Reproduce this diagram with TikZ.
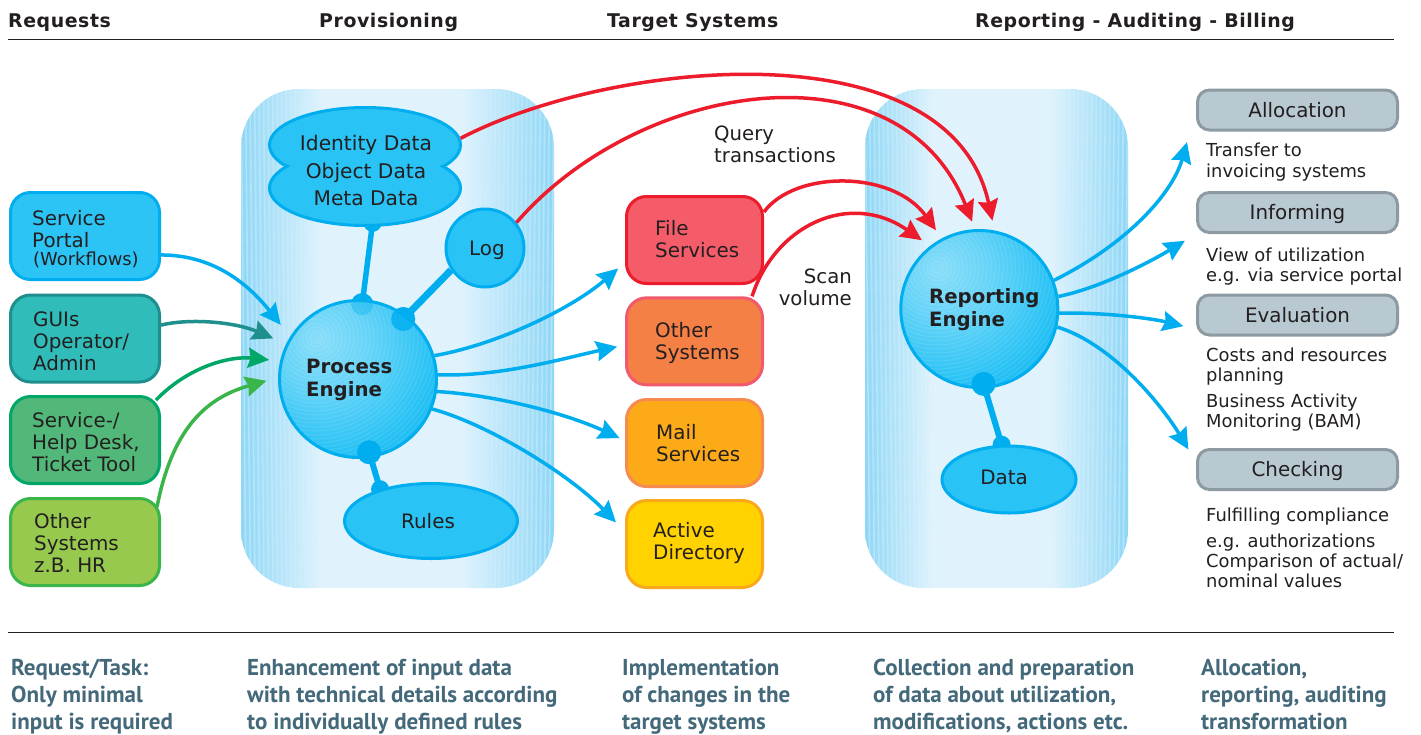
\documentclass[tikz,border=0pt]{standalone}
\usepackage{fontspec}
\setmainfont{DejaVu Sans}
\newfontfamily\headfont[LetterSpace=3]{DejaVu Sans}
\newfontfamily\botfont{PT Sans}
\usetikzlibrary{arrows.meta,calc,shapes.geometric}
\pgfdeclarelayer{under}
\pgfsetlayers{under,main}
\definecolor{inkc}{HTML}{231F20}
\definecolor{cyanL}{HTML}{00AEEF}
\definecolor{cyanF}{HTML}{2AC3F5}
\definecolor{panelE}{HTML}{8ED7F6}
\definecolor{panelC}{HTML}{E0F3FD}
\definecolor{redL}{HTML}{ED1C2C}
\definecolor{slate}{HTML}{43697A}
\definecolor{greyF}{HTML}{B8C9D2}
\definecolor{greyD}{HTML}{8D9AA2}
\definecolor{c1f}{HTML}{2CC4F5}\definecolor{c1d}{HTML}{00AEEF}
\definecolor{c2f}{HTML}{30BCB9}\definecolor{c2d}{HTML}{1F8F8D}
\definecolor{c3f}{HTML}{52B879}\definecolor{c3d}{HTML}{00A766}
\definecolor{c4f}{HTML}{96C94E}\definecolor{c4d}{HTML}{3AB54A}
\definecolor{c5f}{HTML}{F45C6A}\definecolor{c5d}{HTML}{ED1C2C}
\definecolor{c6f}{HTML}{F58045}\definecolor{c6d}{HTML}{F05A6C}
\definecolor{c7f}{HTML}{FDAA18}\definecolor{c7d}{HTML}{F68B4F}
\definecolor{c8f}{HTML}{FFD200}\definecolor{c8d}{HTML}{FBA91C}
\pgfdeclarehorizontalshading{panelshade}{100bp}{color(0bp)=(panelE); color(25bp)=(panelE); color(38bp)=(panelC); color(60bp)=(panelC); color(75bp)=(panelE); color(100bp)=(panelE)}
\pgfdeclareradialshading{ballshade}{\pgfpoint{-13bp}{13bp}}{color(0bp)=(cyanF!55!white); color(14bp)=(cyanF!72!white); color(30bp)=(cyanF); color(44bp)=(cyanL); color(70bp)=(cyanL)}
\tikzset{
  txt/.style={font=\fontsize{19.9}{22}\selectfont,text=inkc,align=left,inner sep=0},
  note/.style={font=\fontsize{17.9}{20.5}\selectfont,text=inkc,align=left,inner sep=0,anchor=west},
  head/.style={font=\fontsize{18.9}{22}\selectfont\headfont\bfseries,text=inkc,inner sep=0,anchor=west,text height=14,text depth=0},
  bot/.style={font=\fontsize{23}{27.3}\selectfont\botfont\bfseries,text=slate,align=left,inner sep=0,anchor=north west},
  sysbox/.style={rectangle,rounded corners=20,line width=3,minimum width=149,minimum height=87,inner sep=0},
  greybox/.style={rectangle,rounded corners=12,line width=3,minimum width=200,minimum height=40,inner sep=0,fill=greyF,draw=greyD,font=\fontsize{19.9}{22}\selectfont,text=inkc,text height=14.5,text depth=0},
  ball/.style={circle,shading=ballshade,draw=cyanL,line width=3,minimum size=157,inner sep=0},
  blob/.style={fill=cyanL,draw=none},
  blueshape/.style={draw=cyanL,fill=cyanF,line width=3,inner sep=0},
  rulerline/.style={line width=0.8,draw=inkc},
  spoke/.style={draw=cyanL,line width=6},
  arr/.style={line width=3.5,-{Stealth[length=21,width=20,inset=2.5]}},
}
\newcommand{\panelstripes}[2]{%
  \begin{scope}
  \clip[rounded corners=58] (#1,89) rectangle (#2,588);
  \foreach \d in {0,4.5,...,85}{
    \pgfmathsetmacro{\op}{0.30*(1-\d/90)}
    \draw[white,opacity=\op,line width=1.6] (#1+\d,89) -- (#1+\d+5,588);
    \draw[white,opacity=\op,line width=1.6] (#2-\d,89) -- (#2-\d-5,588);
  }
  \end{scope}}
\newcommand{\ballrings}[3]{%
  \begin{scope}
  \clip (#1,#2) circle (77);
  \foreach \r in {6,10,...,150}{
    \draw[white,opacity=.10,line width=1] (#1-42,#2-42) circle (\r);
  }
  \end{scope}}
\begin{document}
\begin{tikzpicture}[x=1pt,y=-1pt]
\useasboundingbox (0,0) rectangle (1421,734);
\begin{pgfonlayer}{under}
\fill[white] (0,0) rectangle (1421,734);
\path[shading=panelshade,rounded corners=58] (241,89) rectangle (554,588);
\path[shading=panelshade,rounded corners=58] (865,89) rectangle (1128,588);
\panelstripes{241}{554}
\panelstripes{865}{1128}
\end{pgfonlayer}
% headers and rules
\node[head] (h1) at (8,20) {Requests};
\node[head] (h2) at (319,20) {Provisioning};
\node[head] (h3) at (607,20) {Target Systems};
\node[head] (h4) at (975,20) {Reporting - Auditing - Billing};
\coordinate (r1a) at (8,39); \coordinate (r1b) at (1394,39);
\coordinate (r2a) at (8,632); \coordinate (r2b) at (1394,632);
\draw[rulerline] (r1a) -- (r1b);
\draw[rulerline] (r2a) -- (r2b);
% engines
\node[ball] (pe) at (358,379) {};
\node[ball] (re) at (979.3,309) {};
\ballrings{358}{379}{}
\ballrings{979.3}{309}{}
% cloud and data stores
\node[ellipse,blueshape,minimum width=191,minimum height=75] (c1) at (365,145) {};
\node[ellipse,blueshape,minimum width=191,minimum height=75] (c2) at (365,188) {};
\fill[cyanF] (365,145) circle[x radius=93,y radius=35];
\fill[cyanF] (365,188) circle[x radius=93,y radius=35];
\node[txt,align=center,font=\fontsize{20.2}{27.5}\selectfont] (cl) at (366,170.5) {Identity Data\\Object Data\\Meta Data};
\node[blueshape,circle,minimum size=78] (log) at (485,248) {};
\node[txt] (logt) at (487,248) [text height=14.5,text depth=0] {Log};
\node[blueshape,ellipse,minimum width=173,minimum height=75] (rules) at (431,521) {};
\node[txt] (rulest) at (428,521) [text height=14.5,text depth=0] {Rules};
\node[blueshape,ellipse,minimum width=134,minimum height=67] (data) at (1009,479.5) {};
\node[txt] (datat) at (1004,477) [text height=14.5,text depth=0] {Data};
% spokes under the nodes
\coordinate (b1) at ($(c2.-79)+(0,-4)$); \coordinate (b2) at ($(pe.87)+(0,5)$);
\coordinate (b3) at ($(pe.53)+(-3,4)$); \coordinate (b4) at (log.213);
\coordinate (b5) at ($(pe.-82)+(0,-6)$); \coordinate (b6) at (rules.148);
\coordinate (b7) at ($(re.-87)+(0,-5)$); \coordinate (b8) at (data.102);
\begin{pgfonlayer}{under}
\draw[spoke,line width=5.5] (b1) -- (b2);
\draw[spoke,line width=7] (b3) -- (b4);
\draw[spoke] (b5) -- (b6);
\draw[spoke] (b7) -- (b8);
\fill[blob] (b1) circle (9);
\fill[blob] (b2) circle (11);
\fill[blob] (b3) circle (12);
\fill[blob] (b6) circle (9);
\fill[blob] (b8) circle (9);
\end{pgfonlayer}
\fill[cyanL,opacity=.35] (b2) circle (11);
\fill[cyanL,opacity=.8] (b3) circle (12);
\fill[blob] (b5) circle (12);
\fill[blob] (b7) circle (12);
\node[txt,font=\fontsize{19.7}{23}\selectfont\bfseries,anchor=west] (pel) at (306,379.5) {Process\\Engine};
\node[txt,font=\fontsize{19.7}{23}\selectfont\bfseries,anchor=west] (rel) at (929,310) {Reporting\\Engine};
% left boxes
\node[sysbox,fill=c1f,draw=c1d] (portal) at (85,236) {};
\node[sysbox,fill=c2f,draw=c2d] (gui) at (85,338.5) {};
\node[sysbox,fill=c3f,draw=c3d] (help) at (85,440) {};
\node[sysbox,fill=c4f,draw=c4d] (oth) at (85,542) {};
\node[txt,anchor=west] (t1) at (32,229) {Service\\Portal};
\node[txt,anchor=west,font=\fontsize{17.9}{20}\selectfont] (t1b) at (33,260) {(Workflows)};
\node[txt,anchor=west] (t2) at (33,341) {GUIs\\Operator/\\Admin};
\node[txt,anchor=west] (t3) at (32,442) {Service-/\\Help Desk,\\Ticket Tool};
\node[txt,anchor=west] (t4) at (34,543) {Other\\Systems\\z.B. HR};
% target boxes
\node[sysbox,minimum width=136,fill=c5f,draw=c5d] (file) at (694.5,240) {};
\node[sysbox,minimum width=136,fill=c6f,draw=c6d] (osys) at (694.5,341.3) {};
\node[sysbox,minimum width=136,fill=c7f,draw=c7d] (mail) at (694.5,443) {};
\node[sysbox,minimum width=136,fill=c8f,draw=c8d] (ad) at (694.5,544) {};
\node[txt,anchor=west] (t5) at (655,239) {File\\Services};
\node[txt,anchor=west] (t6) at (655,343.5) {Other\\Systems};
\node[txt,anchor=west] (t7) at (656,443) {Mail\\Services};
\node[txt,anchor=west] (t8) at (653,543) {Active\\Directory};
% right boxes
\node[greybox] (alloc) at (1297.5,110) {Allocation};
\node[greybox] (inf) at (1297.5,212.5) {Informing};
\node[greybox] (eval) at (1297.5,315) {Evaluation};
\node[greybox] (chk) at (1297.5,469.5) {Checking};
% connectors
\draw[arr,cyanL,shorten >=15] (portal.-14) .. controls (210,255) and (245,280) .. (pe.148);
\draw[arr,c2d,shorten >=14] (gui.10) .. controls (190,318) and (235,322) .. (pe.154);
\draw[arr,c3d,shorten >=11] ($(help.north east)+(-5,5)$) .. controls (190,365) and (232,356) .. (pe.167);
\draw[arr,c4d,shorten >=12] ($(oth.north east)+(-4,10)$) .. controls (172,430) and (205,398) .. (pe.179);
\draw[arr,cyanL,shorten >=9] (pe.17.5) .. controls (495,345) and (570,310) .. (file.198.5);
\draw[arr,cyanL,shorten >=8] (pe.3.6) .. controls (500,377) and (565,358) .. (osys.183.3);
\draw[arr,cyanL,shorten >=6] (pe.-9.5) .. controls (495,395) and (565,413) .. (mail.178);
\draw[arr,cyanL,shorten >=13] (pe.-22.7) .. controls (490,425) and (570,475) .. (ad.170);
\draw[arr,redL,shorten >=10] (c1.4) .. controls (610,60) and (950,25) .. (re.79.3);
\draw[arr,redL,shorten >=8] (log.39) .. controls (640,80) and (900,40) .. (re.93);
\draw[arr,redL,shorten >=10] (file.22.6) .. controls (795,170) and (893,170) .. (re.118);
\draw[arr,redL,shorten >=10] (osys.38.7) .. controls (775,225) and (850,190) .. (re.128.8);
\draw[arr,cyanL,shorten >=11] (re.21.5) .. controls (1125,245) and (1172,195) .. ($(alloc.south west)+(-6,0)$);
\draw[arr,cyanL,shorten >=13] (re.9.5) .. controls (1100,288) and (1150,262) .. (inf.south west);
\draw[arr,cyanL,shorten >=13] (re.-3.6) .. controls (1100,312) and (1150,318) .. (eval.188);
\draw[arr,cyanL,shorten >=15] (re.-13.7) .. controls (1115,345) and (1165,410) .. (chk.176);
% labels
\node[txt,anchor=west,font=\fontsize{19.7}{22}\selectfont] (q) at (714,144) {Query\\transactions};
\node[txt,anchor=east,align=right,font=\fontsize{19.7}{22}\selectfont] (s) at (852,287) {Scan\\volume};
\node[note,font=\fontsize{17.9}{21}\selectfont] (n1) at (1206,162) {Transfer to\\invoicing systems};
\node[note] (n2) at (1206,266.5) {View of utilization\\e.g. via service portal};
\node[note] (n3) at (1206,366.5) {Costs and resources\\planning};
\node[note] (n4) at (1206,412.5) {Business Activity\\Monitoring (BAM)};
\node[note] (n5) at (1206,516.5) {Fulfilling compliance};
\node[note,font=\fontsize{17.9}{20}\selectfont] (n6) at (1206,561) {e.g. authorizations\\Comparison of actual/\\nominal values};
% bottom text
\node[bot] (b01) at (11,658.5) {Request/Task:\\Only minimal\\input is required};
\node[bot] (b02) at (247,658.5) {Enhancement of input data\\with technical details according\\to individually defined rules};
\node[bot] (b03) at (622,658.5) {Implementation\\of changes in the\\target systems};
\node[bot] (b04) at (873,658.5) {Collection and preparation\\of data about utilization,\\modifications, actions etc.};
\node[bot] (b05) at (1201,658.5) {Allocation,\\reporting, auditing\\transformation};
\end{tikzpicture}
\end{document}
